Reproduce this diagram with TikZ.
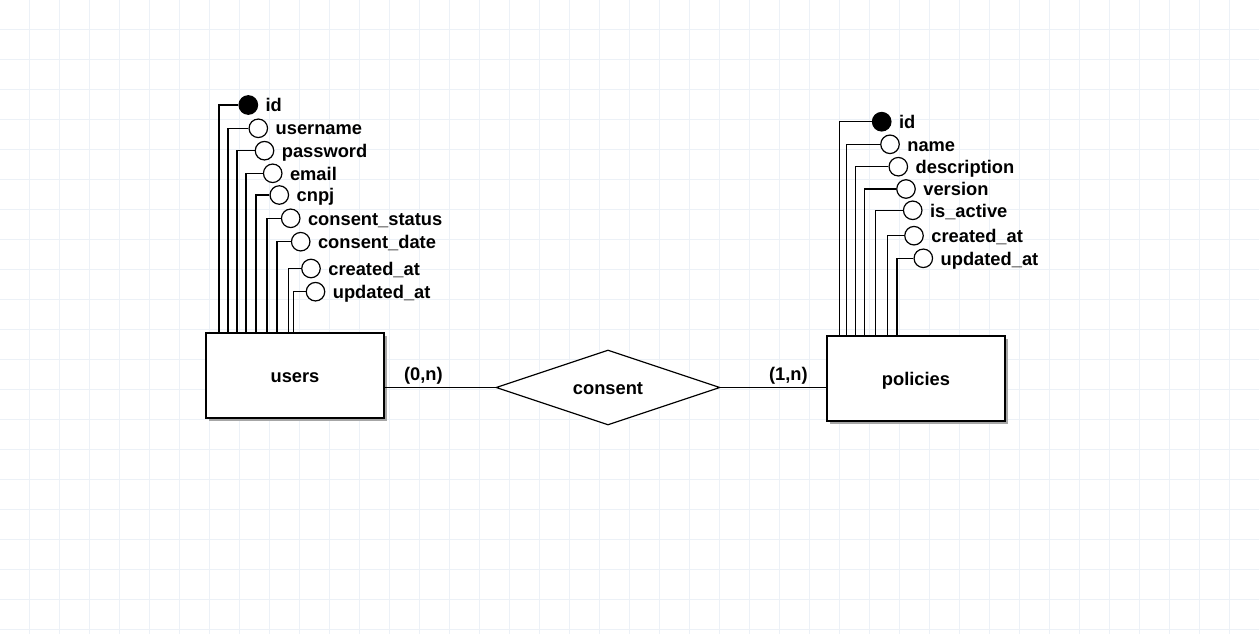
\documentclass[tikz,border=0pt]{standalone}
\usepackage{fontspec}
\setmainfont{Liberation Sans}
\usetikzlibrary{positioning, shapes.geometric, shadows}
\definecolor{gridc}{RGB}{236,241,247}
\tikzset{%
    sec/.style={line width=1.2pt},
    txt/.style={font=\bfseries\fontsize{18.3}{20}\selectfont, text height=13.4pt, text depth=0pt},
    ent/.style={rectangle, draw, line width=1.2pt, fill=white, minimum width=178pt, minimum height=85pt, inner sep=0pt, drop shadow={shadow xshift=3pt, shadow yshift=-3pt, fill=gray!70, opacity=1}, txt},
    rel/.style={diamond, draw, line width=1.2pt, fill=white, aspect=3, minimum width=224pt, minimum height=75pt, inner sep=0pt, txt},
    att/.style={circle, draw, line width=1.2pt, fill=white, minimum size=18.5pt, inner sep=0pt},
    key/.style={att, fill=black},
    lab/.style={txt, inner sep=0pt},
}
\begin{document}
\begin{tikzpicture}[x=1pt, y=-1pt]
    \fill[white] (0,0) rectangle (1259,634);
    \useasboundingbox (0,0) rectangle (1259,634);
    \foreach \g in {29.5,59.5,...,1229.5} \draw[gridc, line width=1pt] (\g,0) -- (\g,634);
    \foreach \g in {29.5,59.5,...,629.5} \draw[gridc, line width=1pt] (0,\g) -- (1259,\g);
    % entities and relation
    \node[ent] (users) at (295,375.5) {users};
    \node[ent] (policies) at (916,378.5) {policies};
    \node[rel] (consent) at (608,387.5) {consent};
    \draw[sec] (consent.west -| users.east) -- (consent.west) node[lab, pos=0.35, yshift=14pt] (card1) {(0,n)};
    \draw[sec] (consent.east) -- (consent.east -| policies.west) node[lab, pos=0.64, yshift=14pt] (card2) {(1,n)};
    % users attributes
    \node[key] (ua0) at (248.3,105) {};
    \node[lab, right=7.3pt of ua0] (ul0) {id};
    \draw[sec] (ua0.west) -| (219,0 |- users.north);
    \foreach \i/\vx/\cx/\cy/\t in {1/228/258.3/128.3/username, 2/237/264.5/150.7/password, 3/246/272.7/173.3/email, 4/256/279.3/195/cnpj, 5/267/290.7/218.3/consent\_status, 6/277/300.7/241.7/consent\_date, 7/288.5/311/268.5/created\_at, 8/293.5/315.5/291.7/updated\_at}{
        \node[att] (ua\i) at (\cx,\cy) {};
        \node[lab, right=7.3pt of ua\i] (ul\i) {\t};
        \draw[sec] (ua\i.west) -| (\vx,0 |- users.north);
    }
    % policies attributes
    \node[key] (pa0) at (881.7,121.7) {};
    \node[lab, right=7.3pt of pa0] (pl0) {id};
    \draw[sec] (pa0.west) -| (839.3,0 |- policies.north);
    \foreach \i/\vx/\cx/\cy/\t in {1/846.7/890/144.3/name, 2/855.3/898.3/166.7/description, 3/864.7/906/189/version, 4/875.7/912.7/210.3/is\_active, 5/887.7/914/235.7/created\_at, 6/897/923.3/258.3/updated\_at}{
        \node[att] (pa\i) at (\cx,\cy) {};
        \node[lab, right=7.3pt of pa\i] (pl\i) {\t};
        \draw[sec] (pa\i.west) -| (\vx,0 |- policies.north);
    }
\end{tikzpicture}
\end{document}
